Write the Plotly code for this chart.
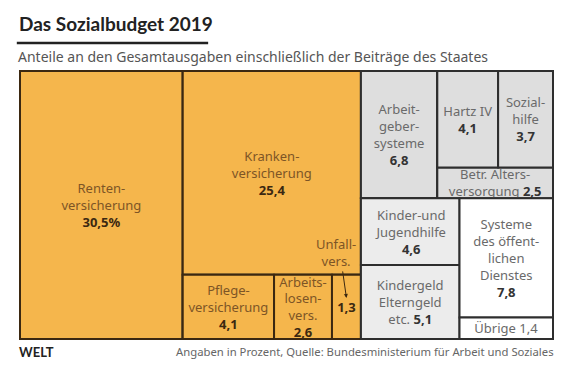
import plotly.graph_objects as go

# ---- data ----
ids = ["root",
       "Renten",
       "G_Kranken", "Kranken", "G_KrankenUnten", "Pflege", "Arbeitslosen", "Unfall",
       "G_Rechts", "G_RechtsOben", "Arbeitgeber", "G_Alters", "G_HartzSozial", "Hartz", "Sozialhilfe", "Betr",
       "G_RechtsUnten", "G_KinderSpalte", "Kinder", "Kindergeld", "G_SystemSpalte", "Systeme", "Uebrige"]
parents = ["",
           "root",
           "root", "G_Kranken", "G_Kranken", "G_KrankenUnten", "G_KrankenUnten", "G_KrankenUnten",
           "root", "G_Rechts", "G_RechtsOben", "G_RechtsOben", "G_Alters", "G_HartzSozial", "G_HartzSozial", "G_Alters",
           "G_Rechts", "G_RechtsUnten", "G_KinderSpalte", "G_KinderSpalte", "G_RechtsUnten", "G_SystemSpalte", "G_SystemSpalte"]
values = [0,
          30.5,
          0, 25.4, 0, 4.1, 2.6, 1.3,
          0, 0, 6.8, 0, 0, 4.1, 3.7, 2.5,
          0, 0, 4.6, 5.1, 0, 7.8, 1.4]
labels = ["",
          "Renten-<br>versicherung",
          "", "Kranken-<br>versicherung", "", "Pflege-<br>versicherung", "Arbeits-<br>losen-<br>vers.", "",
          "", "", "Arbeit-<br>geber-<br>systeme", "", "", "Hartz IV", "Sozial-<br>hilfe", "Betr. Alters-<br>versorgung",
          "", "", "Kinder-und<br>Jugendhilfe", "Kindergeld<br>Elterngeld<br>etc.", "", "Systeme<br>des öffent-<br>lichen<br>Dienstes", "Übrige"]
value_sep = ["",
             "<br>",
             "", "<br>", "", "<br>", "<br>", "",
             "", "", "<br>", "", "", "<br>", "<br>", " ",
             "", "", "<br>", " ", "", "<br>", " "]
kind = ["g",
        "o",
        "g", "o", "g", "o", "o", "o",
        "g", "g", "d", "g", "g", "d", "d", "d",
        "g", "g", "l", "l", "g", "w", "w"]
unfall_label = "Unfall-<br>vers."

FONT = "Noto Sans"
ORANGE = "#f5b64c"
fill = {"o": ORANGE, "d": "#dedede", "l": "#ececec", "w": "#ffffff", "g": "#ffffff"}
edge = {"o": "#3b2811", "d": "#2e2e2e", "l": "#2e2e2e", "w": "#2e2e2e", "g": "#2e2e2e"}
lab_col = {"o": "#7d5526", "d": "#6a6a6a", "l": "#6a6a6a", "w": "#6a6a6a", "g": "#6a6a6a"}
val_col = {"o": "#3b2811", "d": "#333333", "l": "#333333", "w": "#333333", "g": "#333333"}


def fmt(v, i):
    s = f"{v:.1f}".replace(".", ",")
    if ids[i] == "Renten":
        s += "%"
    return s


texts = []
for i, (lab, v, k, sep) in enumerate(zip(labels, values, kind, value_sep)):
    if v == 0:
        texts.append("")
        continue
    num = fmt(v, i)
    if ids[i] == "Uebrige":
        num_html = f"<span style='color:{lab_col[k]}'>{num}</span>"
    else:
        num_html = f"<b><span style='color:{val_col[k]}'>{num}</span></b>"
    if lab:
        texts.append(f"<span style='color:{lab_col[k]}'>{lab}</span>{sep}{num_html}")
    else:
        texts.append(num_html)

fig = go.Figure(go.Treemap(
    ids=ids, parents=parents, values=values, labels=ids,
    branchvalues="remainder", sort=False,
    text=texts, textinfo="text", textposition="middle center",
    textfont=dict(family=FONT, size=13),
    tiling=dict(packing="slice-dice", pad=0),
    marker=dict(colors=[fill[k] for k in kind],
                line=dict(color=[edge[k] for k in kind], width=2),
                pad=dict(t=0, l=0, r=0, b=0)),
    pathbar=dict(visible=False),
    hoverinfo="skip",
))

# position of the Unfall cell, computed from the values (slice-dice layout)
total = sum(values)
x_r = values[ids.index("Renten")] / total
g_kr = sum(values[ids.index(n)] for n in ("Kranken", "Pflege", "Arbeitslosen", "Unfall"))
w_kr = g_kr / total
bottom = sum(values[ids.index(n)] for n in ("Pflege", "Arbeitslosen", "Unfall"))
h_bottom = bottom / g_kr
x_unf0 = x_r + w_kr * (values[ids.index("Pflege")] + values[ids.index("Arbeitslosen")]) / bottom
x_unf1 = x_r + w_kr
x_unf = (x_unf0 + x_unf1) / 2

fig.add_annotation(xref="paper", yref="paper", x=x_unf, y=h_bottom * 0.64,
                   ax=-4, ay=-28,
                   text="", showarrow=True, arrowhead=2, arrowsize=0.8, arrowwidth=1,
                   arrowcolor="#3b2811")
fig.add_annotation(xref="paper", yref="paper", x=x_unf1 - 0.006, y=h_bottom + 0.012,
                   xanchor="right", yanchor="bottom", align="center", showarrow=False,
                   text=unfall_label, font=dict(family=FONT, size=13, color=lab_col["o"]))

# titles
fig.add_annotation(xref="paper", yref="paper", x=-0.006, y=1.0, yshift=34, xanchor="left", yanchor="bottom",
                   showarrow=False, text="<b>Das Sozialbudget 2019</b>",
                   font=dict(family="Lato", size=19, color="#222222"))
fig.add_annotation(xref="paper", yref="paper", x=-0.008, y=1.0, yshift=3, xanchor="left", yanchor="bottom",
                   showarrow=False, text="Anteile an den Gesamtausgaben einschließlich der Beiträge des Staates",
                   font=dict(family=FONT, size=14, color="#555555"))
fig.add_annotation(xref="paper", yref="paper", x=-0.006, y=0, yshift=-3, xanchor="left", yanchor="top",
                   showarrow=False, text="<b>WELT</b>",
                   font=dict(family="Lato", size=13, color="#222222"))
fig.add_annotation(xref="paper", yref="paper", x=1.006, y=0, yshift=-3, xanchor="right", yanchor="top",
                   showarrow=False,
                   text="Angaben in Prozent, Quelle: Bundesministerium für Arbeit und Soziales",
                   font=dict(family=FONT, size=11.3, color="#666666"))

# title underline, 28 px above the plot area
fig.add_shape(type="line", xref="paper", yref="paper", x0=-0.006, x1=0.353,
              y0=1 + 28 / 268, y1=1 + 28 / 268, line=dict(color="#222222", width=2.5))

fig.update_layout(width=572, height=372, margin=dict(l=20, r=19, t=71, b=33),
                  paper_bgcolor="white", uniformtext=dict(minsize=13, mode="show"),
                  showlegend=False)
fig.write_html("out.html", config={"displayModeBar": False},
               post_script="document.body.style.margin='0';")
